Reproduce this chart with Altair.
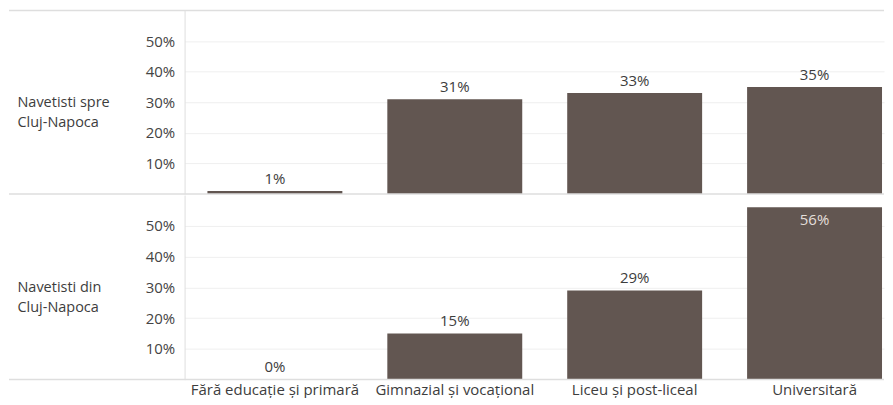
import altair as alt
import pandas as pd

categories = ["Fără educație și primară", "Gimnazial și vocațional", "Liceu și post-liceal", "Universitară"]
spre_values = [0.01, 0.31, 0.33, 0.35]
din_values = [0.002, 0.15, 0.29, 0.56]
row_labels = [["Navetisti spre", "Cluj-Napoca"], ["Navetisti din", "Cluj-Napoca"]]
y_ticks = [0.1, 0.2, 0.3, 0.4, 0.5]

W = 701
LEFT = 176
BAR = "#625651"
GRID = "#efefef"
LINE = "#dedede"
TEXT = "#3d3d3d"
FONT = "Open Sans"
FS = 15

xscale = alt.Scale(domain=categories, paddingInner=0.25, paddingOuter=0.069, align=0.92)
yscale = alt.Scale(domain=[0, 0.6], nice=False, zero=True)


def panel(values, title, height, show_x, top_line):
    df = pd.DataFrame({"cat": categories, "v": values})
    df["inside"] = df["v"] >= 0.5
    base = alt.Chart(df)
    if show_x:
        x_axis = alt.Axis(title=None, labelAngle=0, ticks=False, domain=False, grid=False,
                          labelPadding=3, labelFontSize=FS, labelColor=TEXT, labelFont=FONT)
    else:
        x_axis = None
    x = alt.X("cat:N", sort=categories, scale=xscale, axis=x_axis)
    y = alt.Y("v:Q", scale=yscale,
              axis=alt.Axis(values=y_ticks, format=".0%", title=title, titleAngle=0,
                            titleAlign="left", titleBaseline="middle", titleX=-168,
                            titleY=height / 2, titleFont=FONT, titleFontSize=FS - 0.5,
                            titleFontWeight="normal", titleColor=TEXT, titleLineHeight=20,
                            ticks=False, labelPadding=10, labelFont=FONT, labelFontSize=FS,
                            labelColor="#444", grid=True, gridColor=GRID,
                            domain=True, domainColor=LINE))
    zero_rule = base.transform_filter(alt.datum.cat == categories[0]).mark_rule(
        color=LINE, clip=False, strokeWidth=1.5).encode(
        x=alt.value(-LEFT), x2=alt.value(W), y=alt.datum(0))
    bars = base.mark_bar(color=BAR).encode(x=x, y=y)
    out_lbl = base.transform_filter("!datum.inside").mark_text(
        baseline="alphabetic", dy=-7, font=FONT, fontSize=FS, color=TEXT).encode(
        x=x, y=alt.Y("v:Q"), text=alt.Text("v:Q", format=".0%"))
    in_lbl = base.transform_filter("datum.inside").mark_text(
        baseline="middle", dy=13, font=FONT, fontSize=FS, color="#e4dfdb").encode(
        x=x, y=alt.Y("v:Q"), text=alt.Text("v:Q", format=".0%"))
    layers = [bars, zero_rule, out_lbl, in_lbl]
    if top_line:
        top = base.transform_filter(alt.datum.cat == categories[0]).mark_rule(
            color=LINE, clip=False, strokeWidth=1.5).encode(
            x=alt.value(-LEFT), x2=alt.value(W), y=alt.value(0))
        layers.append(top)
    return alt.layer(*layers).properties(width=W, height=height)


top_panel = panel(spre_values, row_labels[0], 184, False, True)
bottom_panel = panel(din_values, row_labels[1], 185, True, False)

chart = alt.vconcat(top_panel, bottom_panel, spacing=0).properties(
    padding={"left": 0, "right": 0, "top": 1, "bottom": 0},
    background="white",
).configure_view(stroke=None)

chart.save("out.html", embed_options={"renderer": "svg", "actions": False})
